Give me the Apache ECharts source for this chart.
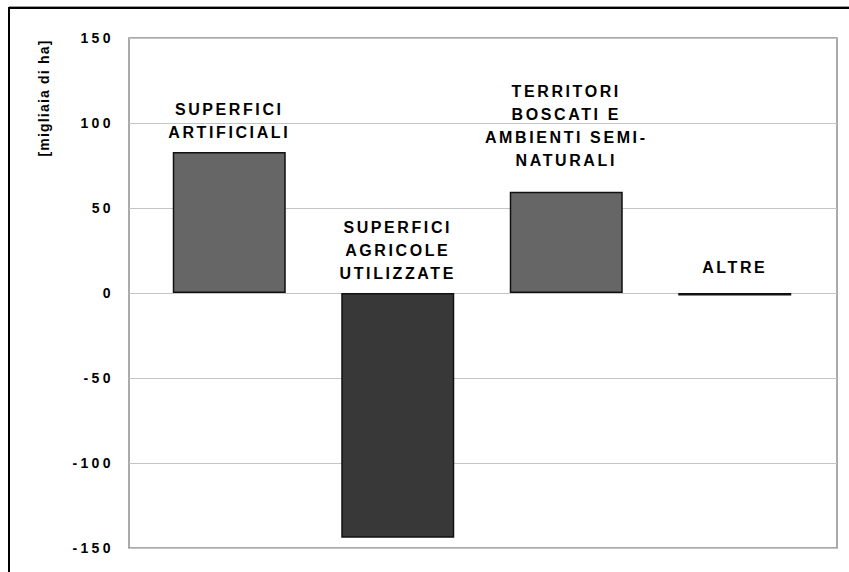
<!DOCTYPE html>
<html>
<head>
<meta charset="utf-8">
<script src="https://cdn.jsdelivr.net/npm/echarts@6/dist/echarts.min.js"></script>
<style>
  html, body { margin: 0; padding: 0; background: #fff; }
  #chart { width: 849px; height: 572px; }
  /* wide tracking on the bold labels, tighter on the unit title */
  #chart text[style*="16px"] { letter-spacing: 2.6px; }
  #chart text[style*="14px"][style*="Arial"] { letter-spacing: 3.4px; }
  #chart text:not([style*="Arial"]) { letter-spacing: 1.2px; }
</style>
</head>
<body>
<div id="chart"></div>
<script>
// Variazione delle classi di uso del suolo [migliaia di ha]
const categories = [
  'SUPERFICI\nARTIFICIALI',
  'SUPERFICI\nAGRICOLE\nUTILIZZATE',
  'TERRITORI\nBOSCATI E\nAMBIENTI SEMI-\nNATURALI',
  'ALTRE'
];
const variation = [83, -144, 59.5, -1.5];
const unitTitle = '[migliaia di ha]';
const yMin = -150, yMax = 150, yStep = 50;

// per-bar look
const barFills = ['#666666', '#383838', '#666666', '#111111'];
const labelGaps = [8, 8, 20, 14];

const LABEL_FONT = 'Arial, Liberation Sans';

const chart = echarts.init(document.getElementById('chart'), null, { renderer: 'svg' });

chart.setOption({
  animation: false,
  backgroundColor: '#ffffff',
  grid: [
    // framed plot area with the gridlines and value labels
    {
      left: 129, right: 12, top: 38, bottom: 24,
      show: true, borderColor: '#8e8e8e', borderWidth: 1.5, backgroundColor: 'transparent'
    },
    // inner band holding the bars
    { left: 145, right: 30, top: 38, bottom: 24 }
  ],
  xAxis: [
    {
      gridIndex: 0, type: 'category', data: categories,
      axisLine: { show: false }, axisTick: { show: false },
      axisLabel: { show: false }, splitLine: { show: false }
    },
    {
      gridIndex: 1, type: 'category', data: categories,
      axisLine: { show: false }, axisTick: { show: false },
      axisLabel: { show: false }, splitLine: { show: false }
    }
  ],
  yAxis: [
    {
      gridIndex: 0, type: 'value',
      min: yMin, max: yMax, interval: yStep,
      axisLine: { show: false },
      axisTick: { show: false },
      axisLabel: {
        color: '#000', fontSize: 14, fontWeight: 'bold', fontFamily: LABEL_FONT, margin: 15
      },
      splitLine: { lineStyle: { color: '#c4c4c4', width: 1 } }
    },
    {
      gridIndex: 1, type: 'value',
      min: yMin, max: yMax, interval: yStep,
      axisLine: { show: false }, axisTick: { show: false },
      axisLabel: { show: false }, splitLine: { show: false }
    }
  ],
  series: [{
    type: 'bar',
    xAxisIndex: 1, yAxisIndex: 1,
    barWidth: 113,
    data: variation.map((v, i) => ({
      value: v,
      itemStyle: { color: barFills[i], borderColor: '#111', borderWidth: 1.5 },
      label: { distance: labelGaps[i] }
    })),
    label: {
      show: true,
      position: 'top',
      formatter: p => categories[p.dataIndex],
      color: '#000',
      fontSize: 16,
      fontWeight: 'bold',
      fontFamily: LABEL_FONT,
      lineHeight: 23,
      align: 'center'
    }
  }],
  graphic: [
    {
      type: 'line', silent: true,
      shape: { x1: 9, y1: 6.5, x2: 849, y2: 6.5 },
      style: { stroke: '#9a9a9a', lineWidth: 1 }
    },
    {
      type: 'rect', silent: true,
      shape: { x: 9, y: 8, width: 900, height: 620 },
      style: { fill: 'none', stroke: '#000', lineWidth: 2 }
    },
    {
      type: 'text', silent: true,
      x: 44, y: 98, rotation: Math.PI / 2,
      style: {
        text: unitTitle, fill: '#000',
        font: 'bold 14px Liberation Sans',
        align: 'center', verticalAlign: 'middle'
      }
    }
  ]
});
</script>
</body>
</html>
